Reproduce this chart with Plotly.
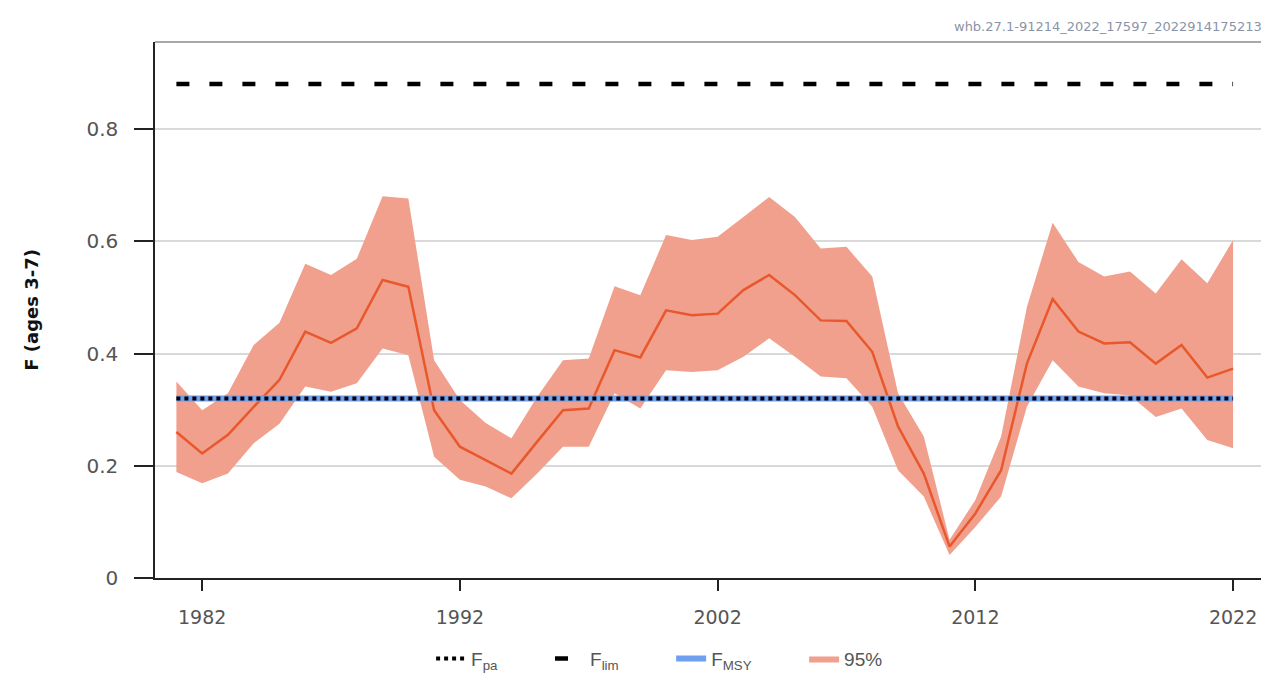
import plotly.graph_objects as go

years = list(range(1981, 2023))
f_est = [0.260, 0.222, 0.255, 0.305, 0.353, 0.439, 0.419, 0.445, 0.531, 0.519,
         0.299, 0.234, 0.210, 0.186, 0.243, 0.299, 0.302, 0.406, 0.393, 0.477,
         0.468, 0.471, 0.513, 0.540, 0.504, 0.459, 0.458, 0.403, 0.270, 0.186,
         0.056, 0.115, 0.192, 0.382, 0.497, 0.439, 0.418, 0.420, 0.382, 0.415,
         0.357, 0.373]
f_high = [0.350, 0.299, 0.329, 0.415, 0.455, 0.560, 0.540, 0.569, 0.680, 0.676,
          0.388, 0.317, 0.276, 0.249, 0.323, 0.388, 0.391, 0.520, 0.504, 0.611,
          0.602, 0.608, 0.643, 0.679, 0.643, 0.587, 0.590, 0.537, 0.329, 0.252,
          0.068, 0.139, 0.252, 0.483, 0.633, 0.563, 0.537, 0.546, 0.507, 0.568,
          0.525, 0.602]
f_low = [0.189, 0.169, 0.186, 0.240, 0.275, 0.341, 0.332, 0.347, 0.409, 0.397,
         0.216, 0.175, 0.163, 0.142, 0.186, 0.234, 0.234, 0.329, 0.302, 0.370,
         0.367, 0.370, 0.394, 0.427, 0.394, 0.359, 0.356, 0.305, 0.192, 0.145,
         0.041, 0.091, 0.145, 0.305, 0.388, 0.341, 0.329, 0.325, 0.287, 0.302,
         0.246, 0.231]
f_pa = 0.32
f_lim = 0.88
f_msy = 0.32
tick_years = [1982, 1992, 2002, 2012, 2022]
y_ticks = [0, 0.2, 0.4, 0.6, 0.8]
y_tick_text = ["0", "0.2", "0.4", "0.6", "0.8"]
source_label = "whb.27.1-91214_2022_17597_2022914175213"
pad = "&nbsp;" * 9

fig = go.Figure()

# 95% band
fig.add_trace(go.Scatter(x=years, y=f_low, mode="lines", line=dict(width=0, color="rgba(0,0,0,0)"),
                         showlegend=False, hoverinfo="skip"))
fig.add_trace(go.Scatter(x=years, y=f_high, mode="lines", line=dict(width=0, color="#F1A08D"),
                         fill="tonexty", fillcolor="#F1A08D", name="95%", legendrank=4))
# estimate line
fig.add_trace(go.Scatter(x=years, y=f_est, mode="lines", line=dict(color="#E8582C", width=2.5),
                         showlegend=False))
# reference lines
x_ref = [years[0], years[-1]]
fig.add_trace(go.Scatter(x=x_ref, y=[f_msy, f_msy], mode="lines",
                         line=dict(color="#6F9FEF", width=6), name="F<sub>MSY</sub>" + pad, legendrank=3))
fig.add_trace(go.Scatter(x=x_ref, y=[f_pa, f_pa], mode="lines",
                         line=dict(color="#000000", width=4, dash="dot"), name="F<sub>pa</sub>" + pad, legendrank=1))
fig.add_trace(go.Scatter(x=x_ref, y=[f_lim, f_lim], mode="lines",
                         line=dict(color="#000000", width=4.5, dash="13px,20px"), name="F<sub>lim</sub>" + pad, legendrank=2))

# page body has an 8px default margin, so the figure is sized to fit the window
fig.update_layout(
    width=1257, height=668,
    margin=dict(l=147, r=1, t=34, b=98, autoexpand=False),
    plot_bgcolor="white", paper_bgcolor="white",
    font=dict(family="DejaVu Sans", color="#555555"),
    showlegend=True,
    legend=dict(orientation="h", x=0.455, xanchor="center", y=-0.115, yanchor="top",
                font=dict(family="Liberation Sans", size=19, color="#555555"),
                traceorder="normal", itemwidth=30),
    xaxis=dict(range=[1980.17, 2023.2], tickmode="array", tickvals=tick_years,
               ticks="outside", ticklen=11, tickcolor="#222222", tickwidth=1.5,
               showline=True, linecolor="#222222", linewidth=1.5,
               showgrid=False, zeroline=False, automargin=False, ticklabelstandoff=10,
               tickfont=dict(size=19, color="#555555", family="DejaVu Sans")),
    yaxis=dict(range=[0, 0.955], tickmode="array", tickvals=y_ticks, ticktext=y_tick_text,
               ticks="outside", ticklen=19, tickcolor="#222222", tickwidth=1.5,
               showline=True, linecolor="#222222", linewidth=1.5,
               showgrid=True, gridcolor="#D9D9D9", gridwidth=1.5, zeroline=False,
               automargin=False, ticklabelstandoff=12,
               tickfont=dict(size=20, color="#555555", family="DejaVu Sans")),
    annotations=[
        dict(text=source_label, xref="paper", yref="paper", x=1.0, y=1.0,
             xanchor="right", yanchor="bottom", yshift=6, showarrow=False,
             font=dict(size=13, color="#8A94A6", family="DejaVu Sans")),
        dict(text="<b>F (ages 3-7)</b>", xref="paper", yref="paper", x=-0.112, y=0.5,
             xanchor="center", yanchor="middle", textangle=-90, showarrow=False,
             font=dict(size=18, color="#111111", family="DejaVu Sans")),
    ],
    shapes=[
        dict(type="line", xref="paper", yref="paper", x0=1, x1=1, y0=0, y1=1,
             line=dict(color="#999999", width=1.5)),
        dict(type="line", xref="paper", yref="paper", x0=0, x1=1, y0=1, y1=1,
             line=dict(color="#8C8C8C", width=1.5)),
    ],
)

fig.write_html("out.html")
